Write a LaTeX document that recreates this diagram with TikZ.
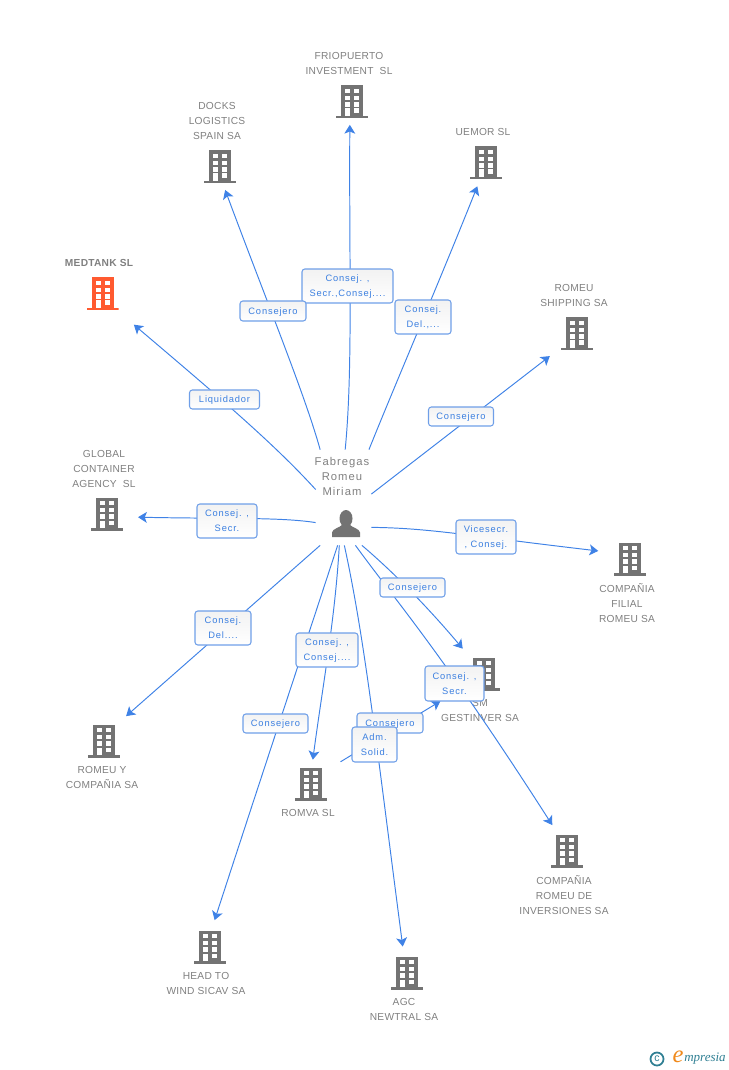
\documentclass[tikz,border=0pt]{standalone}
\usepackage{fontspec}
\usepackage{tikz}
\usetikzlibrary{arrows.meta, positioning}
\setmainfont{Liberation Sans}
\newfontfamily\boxfont[LetterSpace=9]{Liberation Sans}
\newfontfamily\namefont[LetterSpace=2.5]{Liberation Sans}
\newfontfamily\personfont[LetterSpace=9]{Liberation Sans}
\newfontfamily\logofont{Liberation Serif}
\definecolor{linkblue}{HTML}{3F82E6}
\definecolor{boxedge}{HTML}{6F9FE8}
\definecolor{boxtext}{HTML}{3B7FE0}
\definecolor{namegray}{HTML}{808080}
\definecolor{bldggray}{HTML}{737373}
\definecolor{bldgorange}{HTML}{FF5A30}
\definecolor{logoteal}{HTML}{2F7F93}
\definecolor{logoorange}{HTML}{F08A1D}
\def\px{0.02cm}

\begin{document}
\begin{tikzpicture}[
            x=0.02cm, y=-0.02cm,
            bldg/.style={rectangle, inner sep=0pt, minimum width=32*\px, minimum height=34*\px,
              path picture={
                \begin{scope}[shift={(path picture bounding box.center)}]
                  \fill [#1] (-11,-16.5) rectangle (11,14);
                  \fill [#1] (-16,14) rectangle (16,16.5);
                  \foreach \wy in {-13,-6.3,0.3} {
                    \fill [white] (-7,\wy) rectangle (-2,\wy+4.3);
                    \fill [white] (2.3,\wy) rectangle (7.3,\wy+4.3);
                  }
                  \fill [white] (-7,6.5) rectangle (-2,14);
                  \fill [white] (2.3,6.5) rectangle (7.3,10.8);
                \end{scope}
              }},
            bldg/.default=bldggray,
            personbox/.style={rectangle, inner sep=0pt, minimum width=55*\px, minimum height=95*\px,
              path picture={
                \begin{scope}[shift={(path picture bounding box.center)}]
                  \fill [bldggray] (2.5,21) ellipse (6.5 and 8.5);
                  \fill [bldggray] (-11.5,39.5) -- (-11.5,35) .. controls (-11,31) and (-4,30.5) .. (-1,27)
                    -- (6,27) .. controls (9,30.5) and (16,31) .. (16.5,35) -- (16.5,39.5) -- cycle;
                \end{scope}
              }},
            namelabel/.style={inner sep=0pt, align=center, text=namegray, yshift=-0.2pt,
              font=\namefont\fontsize{5.8}{8.5}\selectfont},
            tagbox/.style 2 args={rectangle, rounded corners=1.6pt, draw=boxedge, line width=0.6pt,
              top color=black!5, bottom color=white, text=boxtext, inner sep=0pt, align=center,
              minimum width=#1*\px, minimum height=#2*\px, text depth=0pt,
              font=\boxfont\fontsize{5.3}{8.5}\selectfont},
            arrow/.style={-{Stealth[length=5pt, width=6.2pt, inset=1.2pt]}, line width=0.55pt, linkblue},
            endgap/.style={shorten >=#1*\px}
        ]
        \useasboundingbox (0,0) rectangle (728,1070);

        % Companies
        \node (frio) at (352,102) [bldg] {};
        \node (docks) at (220,167) [bldg] {};
        \node (uemor) at (486,163) [bldg] {};
        \node (medtank) at (102.5,294) [bldg=bldgorange] {};
        \node (shipping) at (577,334) [bldg] {};
        \node (global) at (107,514) [bldg] {};
        \node (filial) at (630,559) [bldg] {};
        \node (gestinver) at (484,674) [bldg] {};
        \node (romeuy) at (104,741) [bldg] {};
        \node (romva) at (311,784) [bldg] {};
        \node (inversiones) at (567,851) [bldg] {};
        \node (headto) at (210,947) [bldg] {};
        \node (agc) at (407,973) [bldg] {};

        \node (friotext) at (349,63.5) [namelabel] {FRIOPUERTO\\INVESTMENT\ \ SL};
        \node (dockstext) at (217,121) [namelabel] {DOCKS\\LOGISTICS\\SPAIN SA};
        \node (uemortext) at (483,132) [namelabel] {UEMOR SL};
        \node (medtanktext) at (99,263) [namelabel, font=\namefont\fontsize{5.8}{8.5}\selectfont\bfseries] {MEDTANK SL};
        \node (shippingtext) at (574,295.5) [namelabel] {ROMEU\\SHIPPING SA};
        \node (globaltext) at (104,469) [namelabel] {GLOBAL\\CONTAINER\\AGENCY\ \ SL};
        \node (filialtext) at (627,603) [namelabel] {COMPAÑIA\\FILIAL\\ROMEU SA};
        \node (gestinvertext) at (480,710.5) [namelabel] {SM\\GESTINVER SA};
        \node (romeuytext) at (102,777.5) [namelabel] {ROMEU Y\\COMPAÑIA SA};
        \node (romvatext) at (308,813) [namelabel] {ROMVA SL};
        \node (inversionestext) at (564,895) [namelabel] {COMPAÑIA\\ROMEU DE\\INVERSIONES SA};
        \node (headtotext) at (206,983.5) [namelabel] {HEAD TO\\WIND SICAV SA};
        \node (agctext) at (404,1009.5) [namelabel] {AGC\\NEWTRAL SA};

        % Person
        \node (person) at (343.5,497.5) [personbox] {};
        \node (persontext) at (342,476) [namelabel, font=\personfont\fontsize{6.4}{8.5}\selectfont] {Fabregas\\Romeu\\Miriam};

        % Links from the person
        \draw [arrow, endgap=5.5] (person.88.2) .. controls (353,370) and (349,260) .. (frio.263.2);
        \draw [arrow, endgap=6] (person.116.3) .. controls (305,395) and (268,305) .. (docks.280);
        \draw [arrow, endgap=6.4] (person.62.7) .. controls (392,392) and (440,280) .. (uemor.250.8);
        \draw [arrow, endgap=13.7] (person.7.3) -- (shipping.220.2);
        \draw [arrow, endgap=20.6] (person.164.7) .. controls (275,445) and (225,402) .. (medtank.312.7);
        \draw [arrow, endgap=14.7] (person.222.8) .. controls (280,517) and (225,519) .. (global.350.5);
        \draw [arrow, endgap=15.5] (person.313) .. controls (430,528) and (470,536) .. (filial.159.9);
        \draw [arrow, endgap=11.4] (person.244.7) -- (romeuy.52.4);
        \draw [arrow, endgap=10] (person.263.4) .. controls (310,630) and (270,750) .. (headto.85.8);
        \draw [arrow, endgap=7] (person.265.8) .. controls (335,620) and (322,690) .. (romva.87.6);
        \draw [arrow, endgap=9.2] (person.271.8) .. controls (365,640) and (377,750) .. (agc.100.9);
        \draw [arrow, endgap=10.4] (person.291.3) .. controls (385,565) and (420,598) .. (gestinver.130);
        \draw [arrow, endgap=10.2] (person.284.7) .. controls (395,600) and (440,650) .. (inversiones.118.3);

        % Link between companies
        \draw [arrow, endgap=31.9, shorten <=15.4*\px] (romva.41.6) -- (gestinver.213.7);

        % Tags on the links
        \node (tagfrio) at (347.5,286) [tagbox={91}{34}] {Consej. ,\\Secr.,Consej....};
        \node (tagdocks) at (273,311) [tagbox={66}{20}] {Consejero};
        \node (taguemor) at (423,317) [tagbox={56}{34}] {Consej.\\Del.,...};
        \node (tagmedtank) at (224.5,399.5) [tagbox={70}{19}] {Liquidador};
        \node (tagshipping) at (461,416.5) [tagbox={65}{19}] {Consejero};
        \node (tagglobal) at (227,521) [tagbox={60}{34}] {Consej. ,\\Secr.};
        \node (tagfilial) at (486,537) [tagbox={60}{34}] {Vicesecr.\\, Consej.};
        \node (tagromeuy) at (223,628) [tagbox={56}{34}] {Consej.\\Del....};
        \node (taggestinver) at (412.5,587.5) [tagbox={65}{19}] {Consejero};
        \node (tagromva) at (327,650) [tagbox={62}{34}] {Consej. ,\\Consej....};
        \node (tagheadto) at (275.5,723.5) [tagbox={65}{19}] {Consejero};
        \node (taglink) at (390,723) [tagbox={66}{20}] {Consejero};
        \node (taginversiones) at (454.5,683.5) [tagbox={59}{35}] {Consej. ,\\Secr.};
        \node (tagagc) at (374.5,744.5) [tagbox={45}{35}] {Adm.\\Solid.};

        % Logo
        \node (logomark) at (657,1059) [circle, draw=logoteal, line width=1pt, inner sep=0pt, minimum size=13*\px, text=logoteal,
          font=\fontsize{6}{6}\selectfont] {c};
        \node (logoe) at (678,1057) [inner sep=0pt, text=logoorange, font=\logofont\itshape\fontsize{14}{14}\selectfont] {e};
        \node (logotext) at (705,1059) [inner sep=0pt, text=logoteal, font=\logofont\itshape\fontsize{7.4}{8}\selectfont] {mpresia};
\end{tikzpicture}
\end{document}
